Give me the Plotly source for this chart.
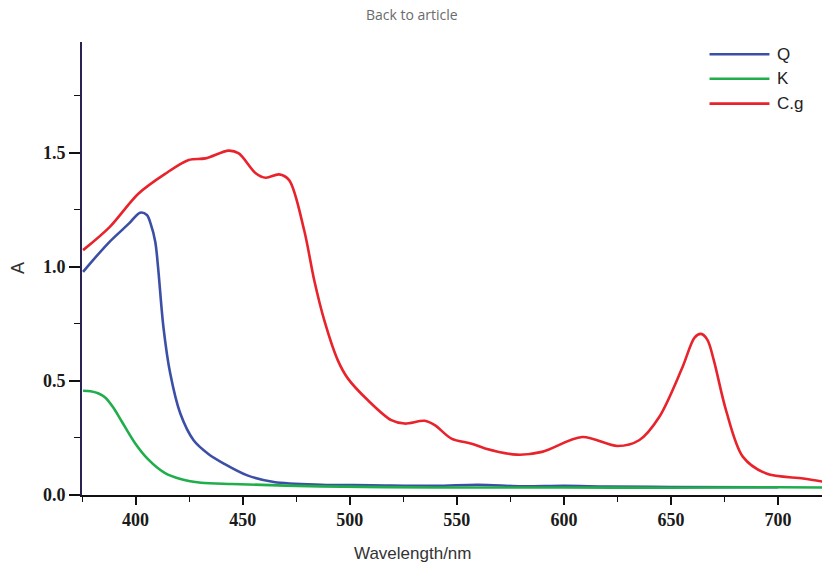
import plotly.graph_objects as go

# ---- data ----
wl_q = [375.5, 387.2, 397.0, 402.1, 405.3, 407.0, 409.2, 410.5, 413.0, 416.2, 420.9, 427.1, 434.0,
        441.2, 452.2, 464.6, 486.6, 510, 540, 560, 580, 600, 620, 650, 700]
a_q = [0.978, 1.103, 1.190, 1.237, 1.227, 1.190, 1.110, 1.000, 0.737, 0.532, 0.357, 0.240, 0.180,
       0.138, 0.086, 0.057, 0.045, 0.043, 0.040, 0.045, 0.038, 0.040, 0.037, 0.035, 0.034]

wl_k = [375.5, 379.0, 382.5, 385.7, 389.6, 393.5, 399.7, 405.9, 413.6, 421.4, 430.6, 445, 486.6, 540,
        600, 650, 700, 722]
a_k = [0.457, 0.455, 0.446, 0.428, 0.383, 0.323, 0.228, 0.156, 0.097, 0.069, 0.054, 0.048, 0.038,
       0.033, 0.033, 0.032, 0.034, 0.033]

wl_cg = [375.5, 388.0, 401.3, 413.8, 424.8, 432.6, 443.5, 448.2, 456.1, 460.8, 467.0, 471.7, 478.7,
         483.4, 488.1, 494.4, 499.1, 508.5, 519.4, 525.6, 535.0, 539.7, 547.5, 556.9, 563.2, 578.0,
         589.8, 608.5, 625.0, 635.1, 644.5, 655.4, 661.0, 664.0, 667.0, 670.0, 675.7, 683.6, 694.5,
         711.7, 722.0]
a_cg = [1.073, 1.175, 1.320, 1.407, 1.468, 1.475, 1.509, 1.497, 1.410, 1.390, 1.405, 1.380, 1.161,
        0.942, 0.766, 0.591, 0.511, 0.415, 0.328, 0.313, 0.325, 0.306, 0.247, 0.225, 0.204, 0.177,
        0.189, 0.254, 0.215, 0.240, 0.342, 0.561, 0.690, 0.706, 0.680, 0.590, 0.371, 0.167, 0.094,
        0.072, 0.057]

series_names = ["Q", "K", "C.g"]
series_colors = ["#3b4fa6", "#1fae4b", "#e8232b"]

x_tickvals = [400, 450, 500, 550, 600, 650, 700]
y_tickvals = [0.0, 0.5, 1.0, 1.5]
y_ticktext = ["0.0", "0.5", "1.0", "1.5"]

fig = go.Figure()
for name, wl, a, col in zip(series_names, [wl_q, wl_k, wl_cg], [a_q, a_k, a_cg], series_colors):
    fig.add_trace(go.Scatter(x=wl, y=a, mode="lines", name=name,
                             line=dict(color=col, width=2.6, shape="spline", smoothing=0.9),
                             showlegend=False))

tickfont = dict(family="Liberation Serif", size=18, color="#1a1a1a", weight="bold")

fig.update_layout(
    width=822, height=571,
    margin=dict(l=82, r=0, t=42, b=76),
    paper_bgcolor="white", plot_bgcolor="white",
    xaxis=dict(range=[375, 720.5], showgrid=False, zeroline=False, showline=True,
               linecolor="#111111", linewidth=1.6, ticks="outside", ticklen=8, tickwidth=1.5,
               tickcolor="#111111", tickvals=x_tickvals, tickfont=tickfont,
               minor=dict(dtick=25, tick0=375, ticks="outside", ticklen=5, tickwidth=1.3,
                          tickcolor="#111111", showgrid=False)),
    yaxis=dict(range=[0, 1.985], showgrid=False, zeroline=False, showline=True,
               linecolor="#2a2352", linewidth=2, ticks="outside", ticklen=11, tickwidth=1.5,
               tickcolor="#111111", tickvals=y_tickvals, ticktext=y_ticktext, tickfont=tickfont,
               minor=dict(dtick=0.25, tick0=0, ticks="outside", ticklen=6, tickwidth=1.3,
                          tickcolor="#111111", showgrid=False)),
)

# axis titles and header
fig.add_annotation(text="Wavelength/nm", xref="paper", yref="paper", x=0.446, y=-0.129,
                   xanchor="center", yanchor="middle",
                   showarrow=False, font=dict(family="Liberation Sans", size=17, color="#333333"))
fig.add_annotation(text="A", xref="paper", yref="paper", x=-0.087, y=0.5, textangle=-90,
                   xanchor="center", yanchor="middle",
                   showarrow=False, font=dict(family="Liberation Sans", size=18, color="#333333"))
fig.add_annotation(text="Back to article", xref="paper", yref="paper", x=0.446, y=1.06,
                   xanchor="center", yanchor="middle",
                   showarrow=False, font=dict(family="Open Sans", size=14, color="#6b6b6b"))

# manual legend
leg_y = [0.973, 0.919, 0.864]
for name, col, yy in zip(series_names, series_colors, leg_y):
    fig.add_shape(type="line", xref="paper", yref="paper", x0=0.848, x1=0.929, y0=yy, y1=yy,
                  line=dict(color=col, width=2.6))
    fig.add_annotation(text=name, xref="paper", yref="paper", x=0.937, y=yy, xanchor="left",
                       yanchor="middle",
                       showarrow=False, font=dict(family="Liberation Sans", size=17, color="#222222"))

fig.write_html("out.html", config={"displayModeBar": False},
               post_script="document.body.style.margin='0';document.body.style.overflow='hidden';")
